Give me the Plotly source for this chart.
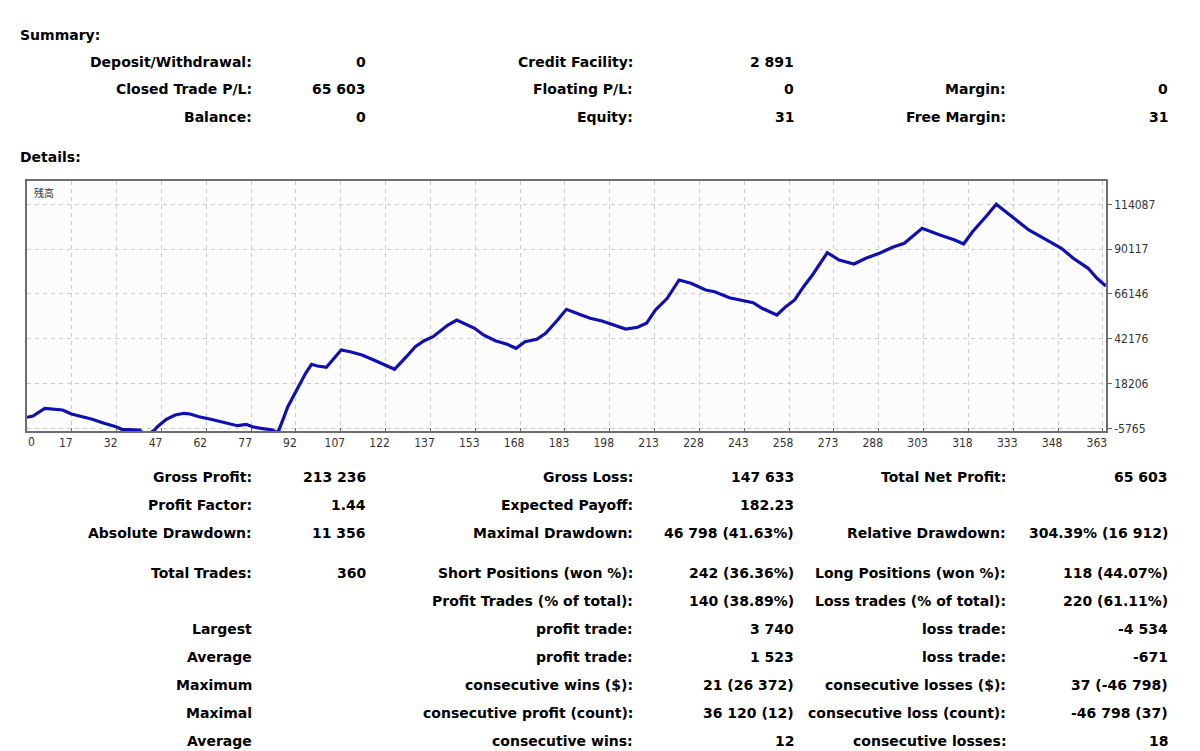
import plotly.graph_objects as go

# balance curve (trade number, balance)
trade_no = [0, 2, 6, 8, 12, 15, 18, 22, 26, 30, 32, 38, 40, 43, 44, 47, 50, 53, 55, 58,
            62, 67, 71, 74, 76, 79, 83, 84, 85, 88, 92, 94, 96, 98, 101, 103, 106, 109,
            113, 117, 121, 124, 128, 131, 134, 137, 142, 145, 151, 154, 158, 162, 165,
            168, 172, 175, 179, 182, 187, 190, 194, 198, 202, 206, 209, 212, 216, 220,
            224, 229, 232, 237, 243, 245, 248, 253, 256, 259, 262, 265, 270, 274, 279,
            283, 288, 292, 296, 302, 308, 313, 316, 319, 324, 327, 333, 338, 345, 349,
            353, 358, 361, 364]
balance = [123, 819, 4939, 4564, 4029, 1889, 819, -947, -3087, -4906, -6297, -6672,
           -9882, -6672, -4906, -947, 1354, 2264, 1889, 444, -947, -2766, -4371, -3622,
           -4906, -5762, -6672, -8277, -6672, 5795, 18315, 23665, 28481, 27571, 26875,
           30781, 36132, 35222, 33456, 30781, 28106, 25805, 32547, 37897, 41108, 43248,
           49508, 52183, 47742, 44157, 41108, 39181, 37041, 40573, 41857, 45067, 52183,
           57908, 54858, 53092, 51648, 49508, 47368, 48277, 50417, 57533, 63793, 73585,
           71819, 68234, 67324, 64114, 61974, 61439, 58443, 54858, 59299, 62884, 70000,
           76260, 88191, 84285, 82145, 85195, 88191, 91080, 93220, 101246, 97661, 94986,
           92846, 99427, 108362, 114087, 106596, 100337, 94077, 90545, 85195, 79844,
           74494, 70374]

x_labels = ["0", "17", "32", "47", "62", "77", "92", "107", "122", "137", "153", "168",
            "183", "198", "213", "228", "243", "258", "273", "288", "303", "318", "333",
            "348", "363"]
y_ticks = [-5765, 18206, 42176, 66146, 90117, 114087]

summary_rows = [
    ["Deposit/Withdrawal:", "0", "Credit Facility:", "2 891", "", ""],
    ["Closed Trade P/L:", "65 603", "Floating P/L:", "0", "Margin:", "0"],
    ["Balance:", "0", "Equity:", "31", "Free Margin:", "31"],
]
details_rows = [
    ["Gross Profit:", "213 236", "Gross Loss:", "147 633", "Total Net Profit:", "65 603"],
    ["Profit Factor:", "1.44", "Expected Payoff:", "182.23", "", ""],
    ["Absolute Drawdown:", "11 356", "Maximal Drawdown:", "46 798 (41.63%)",
     "Relative Drawdown:", "304.39% (16 912)"],
    ["Total Trades:", "360", "Short Positions (won %):", "242 (36.36%)",
     "Long Positions (won %):", "118 (44.07%)"],
    ["", "", "Profit Trades (% of total):", "140 (38.89%)",
     "Loss trades (% of total):", "220 (61.11%)"],
    ["Largest", "", "profit trade:", "3 740", "loss trade:", "-4 534"],
    ["Average", "", "profit trade:", "1 523", "loss trade:", "-671"],
    ["Maximum", "", "consecutive wins ($):", "21 (26 372)",
     "consecutive losses ($):", "37 (-46 798)"],
    ["Maximal", "", "consecutive profit (count):", "36 120 (12)",
     "consecutive loss (count):", "-46 798 (37)"],
    ["Average", "", "consecutive wins:", "12", "consecutive losses:", "18"],
]

W, H = 1200, 751
L, R, T, B = 27, 94, 181, 320
PW, PH = W - L - R, H - T - B
X_STEP = 15.125          # trades per vertical grid line
X_MAX = PW / 44.83 * X_STEP


def px(x):   # page pixel -> paper x
    return (x - L) / PW


def py(y):   # page pixel -> paper y
    return (H - B - y) / PH


fig = go.Figure()
fig.add_trace(go.Scatter(
    x=trade_no, y=balance, mode="lines",
    line=dict(color="#1010b0", width=3.2),
    hoverinfo="skip", showlegend=False,
))

ann = []
bold = dict(family="DejaVu Sans", size=14, color="#000")


def row(cells, y):
    # right edges of the six columns
    edges = [254, 368, 635, 796, 1008, 1170]
    for txt, xe in zip(cells, edges):
        if txt:
            ann.append(dict(text="<b>%s</b>" % txt, x=px(xe), y=py(y), xref="paper",
                            yref="paper", xanchor="right", yanchor="middle",
                            showarrow=False, font=bold))


ann.append(dict(text="<b>Summary:</b>", x=px(18), y=py(35), xref="paper", yref="paper",
                xanchor="left", yanchor="middle", showarrow=False, font=bold))
ann.append(dict(text="<b>Details:</b>", x=px(18), y=py(157), xref="paper", yref="paper",
                xanchor="left", yanchor="middle", showarrow=False, font=bold))
for r, y in zip(summary_rows, [62, 89, 117]):
    row(r, y)
for r, y in zip(details_rows, [477, 505, 533, 573, 601, 629, 657, 685, 713, 741]):
    row(r, y)

ann.append(dict(text="残高", x=px(32), y=py(192), xref="paper", yref="paper",
                xanchor="left", yanchor="middle", showarrow=False,
                font=dict(family="Noto Sans CJK JP", size=10, color="#333")))

axis_font = dict(family="DejaVu Sans Condensed, DejaVu Sans", size=12, color="#333")

# first label sits right of the left border, the rest left of their grid line
ann.append(dict(text=x_labels[0], x=px(31), y=py(442), xref="paper", yref="paper",
                xanchor="center", yanchor="middle", showarrow=False, font=axis_font))

fig.update_xaxes(
    range=[0, X_MAX], tickmode="array",
    tickvals=[i * X_STEP for i in range(len(x_labels))],
    ticktext=[""] + x_labels[1:],
    ticks="inside", ticklen=3, tickcolor="#666", ticklabelshift=-6,
    showgrid=True, gridcolor="#cbcbcb", griddash="4px,4px", gridwidth=1,
    showline=True, mirror=True, linecolor="#6e6e6e", linewidth=1.5,
    zeroline=False, tickfont=axis_font, fixedrange=True,
)
fig.update_yaxes(
    range=[-7207, 126554], side="right", tickmode="array",
    tickvals=y_ticks, ticktext=[str(v) for v in y_ticks],
    ticks="outside", ticklen=4, tickcolor="#666",
    showgrid=True, gridcolor="#cbcbcb", griddash="4px,4px", gridwidth=1,
    showline=True, mirror=True, linecolor="#6e6e6e", linewidth=1.5,
    zeroline=False, tickfont=axis_font, fixedrange=True,
)

fig.update_layout(
    width=W, height=H,
    margin=dict(l=L, r=R, t=T, b=B),
    paper_bgcolor="white",
    plot_bgcolor="#fcfcfd",
    annotations=ann,
    showlegend=False,
)

fig.write_html("out.html", config={"displayModeBar": False},
               post_script="document.body.style.margin='0';document.body.style.overflow='hidden';")
